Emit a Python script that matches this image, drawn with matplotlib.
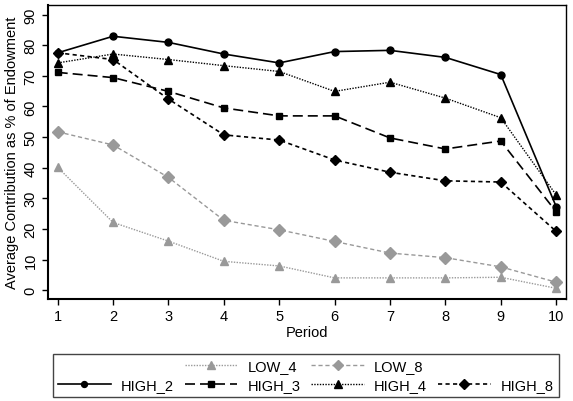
import numpy as np
import matplotlib

matplotlib.use("Agg")
import matplotlib.pyplot as plt
from matplotlib.lines import Line2D

plt.rcParams["font.family"] = ["Liberation Sans", "DejaVu Sans"]

period = [1, 2, 3, 4, 5, 6, 7, 8, 9, 10]
low_4 = [40.1, 22.1, 16.0, 9.4, 7.9, 4.0, 4.0, 4.0, 4.2, 0.6]
low_8 = [51.7, 47.4, 36.8, 22.8, 19.7, 15.9, 12.1, 10.6, 7.6, 2.6]
high_2 = [77.5, 82.9, 80.9, 77.1, 74.2, 77.9, 78.3, 76.0, 70.4, 27.3]
high_3 = [71.1, 69.4, 64.9, 59.5, 56.9, 56.9, 49.7, 46.1, 48.7, 25.6]
high_4 = [74.2, 77.1, 75.3, 73.3, 71.4, 64.9, 67.9, 62.7, 56.3, 31.1]
high_8 = [77.5, 75.3, 62.4, 50.7, 49.0, 42.5, 38.5, 35.7, 35.3, 19.2]

grey = "#999999"

fig = plt.figure(figsize=(5.73, 4.02), dpi=100)
ax = fig.add_axes([0.0838, 0.2537, 0.9032, 0.7313])

l_low4, = ax.plot(period, low_4, color=grey, lw=1.0, linestyle=(0, (1, 1)),
                  marker="^", ms=6, mec=grey, mfc=grey, label="LOW_4")
l_low8, = ax.plot(period, low_8, color=grey, lw=1.0, linestyle=(0, (3, 2)),
                  marker="D", ms=6, mec=grey, mfc=grey, label="LOW_8")
l_h2, = ax.plot(period, high_2, color="black", lw=1.2, linestyle="-",
                marker="o", ms=5, label="HIGH_2")
l_h3, = ax.plot(period, high_3, color="black", lw=1.2, linestyle=(0, (6, 3)),
                marker="s", ms=5, label="HIGH_3")
l_h4, = ax.plot(period, high_4, color="black", lw=1.0, linestyle=(0, (1, 1)),
                marker="^", ms=6, label="HIGH_4")
l_h8, = ax.plot(period, high_8, color="black", lw=1.2, linestyle=(0, (2.5, 2)),
                marker="D", ms=5.5, label="HIGH_8")

ax.set_xlim(0.825, 10.17)
ax.set_ylim(-2.9, 93.1)
ax.set_xticks(period)
ax.set_yticks(np.arange(0, 100, 10))
ax.tick_params(axis="both", labelsize=10.5, length=4, width=1, colors="black")
for lab in ax.get_yticklabels():
    lab.set_rotation(90)
    lab.set_va("center")
ax.set_xlabel("Period", fontsize=10.5, labelpad=1)
ax.set_ylabel("Average Contribution as % of Endowment", fontsize=10.5, labelpad=3)

for s in ["left", "bottom"]:
    ax.spines[s].set_linewidth(1.5)
for s in ["top", "right"]:
    ax.spines[s].set_linewidth(1.0)

blank = Line2D([], [], linestyle="", marker="")
handles = [blank, l_h2, l_low4, l_h3, l_low8, l_h4, blank, l_h8]
labels = ["", "HIGH_2", "LOW_4", "HIGH_3", "LOW_8", "HIGH_4", "", "HIGH_8"]
leg = fig.legend(
    handles,
    labels,
    loc="lower left",
    bbox_to_anchor=(0.0925, 0.01, 0.883, 0.122),
    mode="expand",
    ncol=4,
    fontsize=10.5,
    handlelength=3.6,
    handletextpad=0.7,
    columnspacing=0.6,
    labelspacing=0.35,
    borderpad=0.35,
    borderaxespad=0,
    fancybox=False,
    framealpha=1,
    edgecolor="#444444",
    markerscale=0.85,
)
leg.get_frame().set_linewidth(1.0)

fig.savefig("out.png", dpi=100)
plt.close(fig)
